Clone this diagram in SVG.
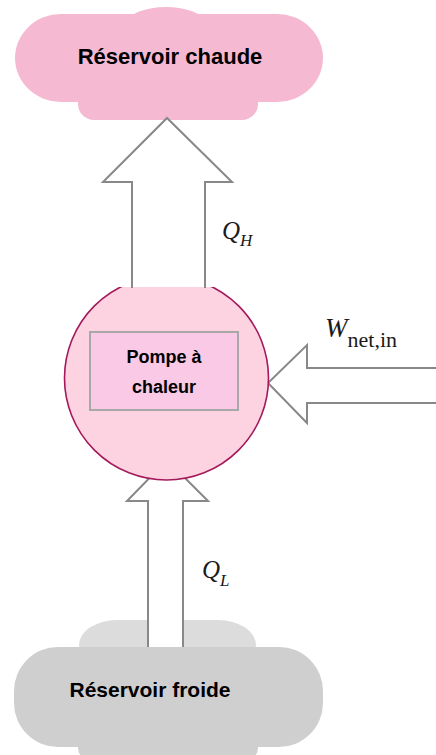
<svg xmlns="http://www.w3.org/2000/svg" width="436" height="755" viewBox="0 0 436 755">
<style>
.hot{fill:#f5bad2}
.cold{fill:#cfcfcf}
.coldtop{fill:#dcdcdc}
.arrow{fill:#ffffff;stroke:#888888;stroke-width:2;stroke-linejoin:miter}
.lbl{font-family:"Liberation Sans",Arial,sans-serif;font-weight:bold;fill:#000}
.math{font-family:"Liberation Serif","Times New Roman",serif;fill:#1a1a1a}
</style>
<rect width="436" height="755" fill="#ffffff"/>
<g id="hot-reservoir">
  <ellipse class="hot" cx="166" cy="22" rx="38" ry="15"/>
  <rect class="hot" x="78" y="60" width="180" height="60" rx="16"/>
  <rect class="hot" x="15" y="14" width="308" height="88" rx="46" ry="44"/>
  <text class="lbl" x="170" y="64" font-size="22" text-anchor="middle">Réservoir chaude</text>
</g>
<g id="cold-reservoir">
  <rect class="coldtop" x="79" y="620" width="177" height="50" rx="38"/>
  <rect class="cold" x="78" y="700" width="180" height="60" rx="12"/>
  <rect class="cold" x="14" y="647" width="309" height="100" rx="44" ry="44"/>
  <text class="lbl" x="150" y="697" font-size="21" text-anchor="middle">Réservoir froide</text>
</g>
<g id="connectors">
  <path id="arrow-QL" class="arrow" d="M148,647 L148,501 L127,501 L167,460 L208,501 L183,501 L183,647"/>
  <path id="arrow-QH" class="arrow" d="M132,287 L132,182 L103,182 L167,118 L232,182 L205,182 L205,287"/>
  <path id="arrow-W" class="arrow" d="M440,368 L307,368 L307,345 L268,383 L307,423 L307,403 L440,403"/>
</g>
<g id="heat-pump">
  <circle cx="166.5" cy="378" r="102" fill="#fdd3e1" stroke="#a3195b" stroke-width="1.6"/>
  <rect x="112" y="268" width="110" height="19" fill="#ffffff"/>
  <line x1="132" y1="268" x2="132" y2="288" stroke="#888888" stroke-width="2"/>
  <line x1="205" y1="268" x2="205" y2="288" stroke="#888888" stroke-width="2"/>
  <rect x="90" y="332" width="148" height="78" fill="#f9c9e6" stroke="#a8a8a8" stroke-width="2"/>
  <text class="lbl" x="164" y="363" font-size="18" text-anchor="middle">Pompe à</text>
  <text class="lbl" x="164" y="393" font-size="18" text-anchor="middle">chaleur</text>
</g>
<g id="labels">
  <text class="math" x="222" y="239" font-size="25" font-style="italic">Q<tspan font-size="17" dy="7">H</tspan></text>
  <text class="math" x="202" y="578" font-size="25" font-style="italic">Q<tspan font-size="17" dy="8">L</tspan></text>
  <text class="math" x="325" y="337" font-size="27" font-style="italic">W<tspan font-size="22" font-style="normal" dy="10">net,in</tspan></text>
</g>
</svg>
